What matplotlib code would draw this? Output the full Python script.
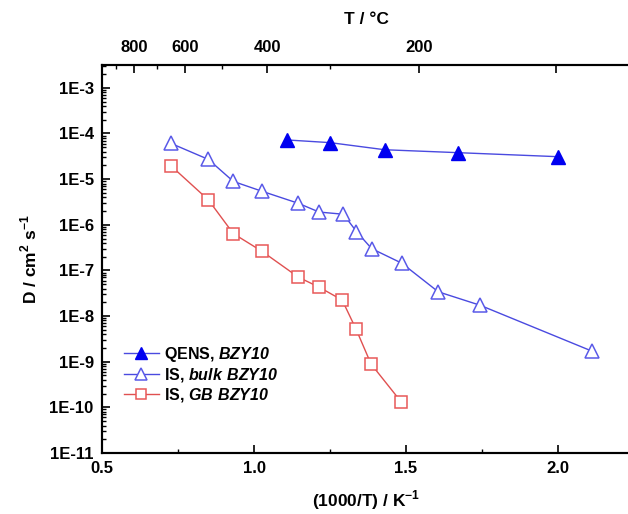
import numpy as np
import matplotlib
matplotlib.use('Agg')
import matplotlib.pyplot as plt
from matplotlib.ticker import FixedLocator, FuncFormatter, LogLocator, NullFormatter, MultipleLocator

plt.rcParams['font.family'] = ['Liberation Sans', 'DejaVu Sans']
plt.rcParams['font.weight'] = 'bold'
plt.rcParams['mathtext.fontset'] = 'custom'
plt.rcParams['mathtext.rm'] = 'Liberation Sans:bold'
plt.rcParams['mathtext.sf'] = 'Liberation Sans:italic:bold'

# QENS, BZY10
qens_x = [1.11, 1.25, 1.43, 1.67, 2.0]
qens_d = [7.2e-5, 6.3e-5, 4.4e-5, 3.8e-5, 3.1e-5]

# IS, bulk BZY10
bulk_x = [0.726, 0.850, 0.932, 1.027, 1.146, 1.214, 1.294, 1.337, 1.387, 1.486, 1.606, 1.743, 2.112]
bulk_d = [6.1e-5, 2.7e-5, 8.9e-6, 5.4e-6, 2.95e-6, 1.9e-6, 1.7e-6, 7.1e-7, 3.0e-7, 1.44e-7,
          3.4e-8, 1.73e-8, 1.7e-9]

# IS, GB BZY10
gb_x = [0.727, 0.850, 0.932, 1.027, 1.146, 1.214, 1.290, 1.336, 1.385, 1.484]
gb_d = [1.95e-5, 3.5e-6, 6.4e-7, 2.6e-7, 7.1e-8, 4.3e-8, 2.24e-8, 5.1e-9, 8.9e-10, 1.32e-10]

# top axis (T / °C) tick positions as drawn in the figure
top_major_pos = [0.605, 0.773, 1.043, 1.543, 1.993]
top_major_lab = ['800', '600', '400', '200', '']
top_minor_pos = [0.546, 0.681, 0.895, 1.25]

fig = plt.figure(figsize=(6.28, 5.14), dpi=100)
ax = fig.add_axes([102 / 628, 61 / 514, 529 / 628, 388 / 514])

blue_line = '#4a4ae0'
ax.plot(qens_x, qens_d, color=blue_line, lw=1, marker='^', ms=10,
        mfc='#0000f0', mec='#0000f0', label='QENS, $\\mathsf{BZY10}$')
ax.plot(bulk_x, bulk_d, color=blue_line, lw=1, marker='^', ms=10,
        mfc='white', mec='#5a5ae8', mew=1.1, label='IS, $\\mathsf{bulk\\ BZY10}$')
ax.plot(gb_x, gb_d, color='#e05050', lw=1, marker='s', ms=8.5,
        mfc='white', mec='#e85858', mew=1.1, label='IS, $\\mathsf{GB\\ BZY10}$')

ax.set_yscale('log')
ax.set_xlim(0.5, 2.24)
ax.set_ylim(1e-11, 10 ** -2.5)

ax.yaxis.set_major_locator(LogLocator(base=10, numticks=20))
ax.yaxis.set_minor_locator(LogLocator(base=10, subs=np.arange(2, 10), numticks=20))
ax.yaxis.set_minor_formatter(NullFormatter())
ax.yaxis.set_major_formatter(FuncFormatter(lambda v, p: '1E%d' % round(np.log10(v))))
ax.xaxis.set_major_locator(MultipleLocator(0.5))
ax.xaxis.set_minor_locator(MultipleLocator(0.25))
ax.xaxis.set_major_formatter(FuncFormatter(lambda v, p: '%.1f' % v))

ax.tick_params(which='both', direction='in', labelsize=12, top=False, right=False)
ax.tick_params(which='major', length=6, width=1.2)
ax.tick_params(which='minor', length=3, width=1)
ax.tick_params(axis='x', pad=6)
ax.tick_params(axis='y', pad=6)
for s in ax.spines.values():
    s.set_linewidth(1.5)

ax.set_xlabel('(1000/T) / K$^{-1}$', fontsize=12.5, fontweight='bold', labelpad=9)
ax.set_ylabel('D / cm$^{2}$ s$^{-1}$', fontsize=12.5, fontweight='bold', labelpad=7)

top = ax.twiny()
top.set_xlim(ax.get_xlim())
top.xaxis.set_major_locator(FixedLocator(top_major_pos))
top.xaxis.set_minor_locator(FixedLocator(top_minor_pos))
top.set_xticklabels(top_major_lab)
top.tick_params(which='both', direction='in', labelsize=12)
top.tick_params(which='major', length=6, width=1.2, pad=7)
top.tick_params(which='minor', length=3, width=1)
top.set_xlabel('T / °C', fontsize=12.5, fontweight='bold', labelpad=12)
for s in top.spines.values():
    s.set_linewidth(1.5)

ax.legend(loc='upper left', bbox_to_anchor=(0.029, 0.295), frameon=False, fontsize=11.5,
          handlelength=2.2, handletextpad=0.3, labelspacing=0.12, markerscale=0.8,
          borderaxespad=0)

fig.savefig('out.png', dpi=100)
